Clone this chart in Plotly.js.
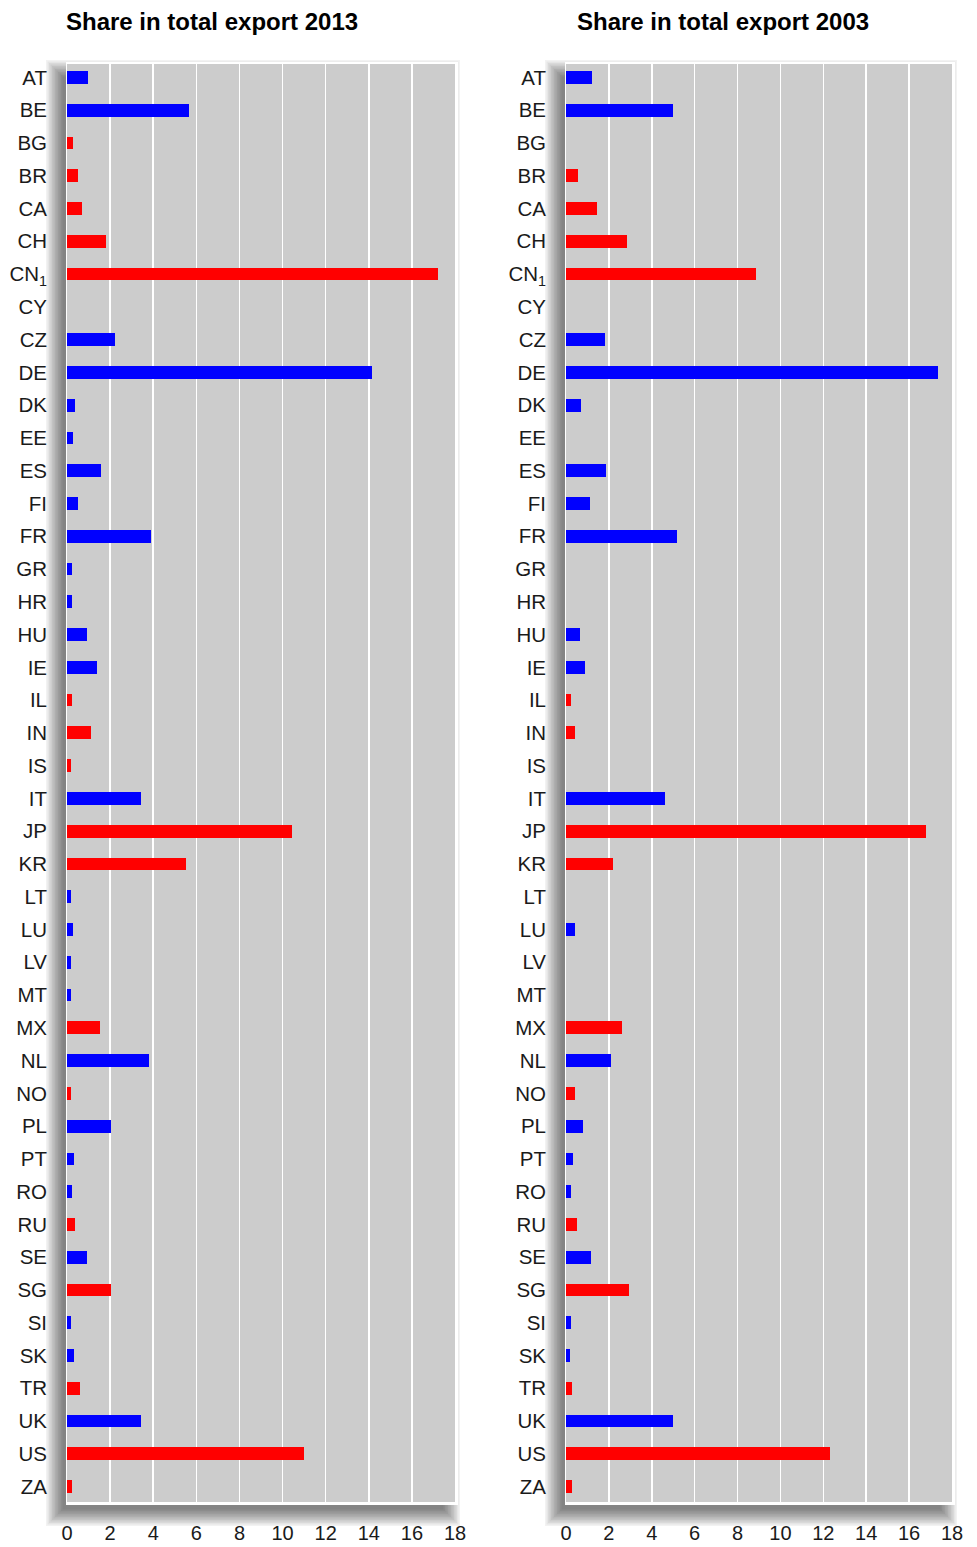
<!DOCTYPE html>
<html>
<head>
<meta charset="utf-8">
<script src="https://cdn.plot.ly/plotly-3.0.1.min.js"></script>
<style>
html,body{margin:0;padding:0;background:#fff;}
#chart{width:977px;height:1547px;}
</style>
</head>
<body>
<div id="chart"></div>
<script>
// ---- data ----
const countries = ["AT","BE","BG","BR","CA","CH","CN<sub>1</sub>","CY","CZ","DE","DK","EE","ES","FI","FR","GR","HR","HU","IE","IL","IN","IS","IT","JP","KR","LT","LU","LV","MT","MX","NL","NO","PL","PT","RO","RU","SE","SG","SI","SK","TR","UK","US","ZA"];

const share2013 = [0.98,5.67,0.28,0.51,0.70,1.81,17.23,null,2.23,14.16,0.37,0.28,1.58,0.51,3.90,0.23,0.23,0.93,1.39,0.23,1.11,0.19,3.44,10.45,5.53,0.19,0.28,0.19,0.19,1.53,3.81,0.19,2.04,0.33,0.23,0.37,0.93,2.04,0.19,0.33,0.60,3.44,11.00,0.23];

const share2003 = [1.20,4.97,null,0.54,1.43,2.83,8.88,null,1.80,17.36,0.68,null,1.85,1.10,5.16,null,null,0.64,0.87,0.22,0.40,null,4.60,16.80,2.17,null,0.40,null,null,2.59,2.08,0.40,0.78,0.31,0.22,0.50,1.15,2.92,0.22,0.17,0.26,4.97,12.33,0.26];

// countries drawn in red (others blue)
const redGroup = ["BG","BR","CA","CH","CN<sub>1</sub>","IL","IN","IS","JP","KR","MX","NO","RU","SG","TR","US","ZA"];

const xTicks = [0,2,4,6,8,10,12,14,16,18];
const titles = ["Share in total export 2013","Share in total export 2003"];

// ---- styling ----
const W = 977, H = 1547;
const BLUE = "#0000ff", RED = "#ff0000";
const colors = countries.map(c => redGroup.includes(c) ? RED : BLUE);

const px = v => v / W;
const py = v => 1 - v / H;

const panels = [
  {x0: 67, x1: 455},
  {x0: 566, x1: 952}
];
const Y0 = 64, Y1 = 1502;

const shapes = [];
panels.forEach(p => {
  // blurred drop shadow built from stacked translucent rectangles
  for (let k = 0; k < 12; k++) {
    const e = 14 - k * 1.5;
    shapes.push({
      type: "rect", xref: "paper", yref: "paper", layer: "below",
      x0: px(p.x0 - 7 - e), x1: px(p.x1 - 9 + e),
      y0: py(Y1 + 10 + e), y1: py(Y0 + 10 - e),
      line: {width: 0}, fillcolor: "rgba(0,0,0,0.052)"
    });
  }
  // white frame
  shapes.push({
    type: "rect", xref: "paper", yref: "paper", layer: "below",
    x0: px(p.x0 - 1), x1: px(p.x1 + 3), y0: py(Y1 + 3), y1: py(Y0 - 2),
    line: {width: 0}, fillcolor: "#ffffff"
  });
  // gray plotting area
  shapes.push({
    type: "rect", xref: "paper", yref: "paper", layer: "below",
    x0: px(p.x0), x1: px(p.x1), y0: py(Y1), y1: py(Y0),
    line: {width: 0}, fillcolor: "#cccccc"
  });
});

const FONT = "Liberation Sans, Arial, Helvetica, sans-serif";

const traces = [
  {type: "bar", orientation: "h", x: share2013, y: countries,
   marker: {color: colors, line: {width: 0}}, width: 0.39,
   xaxis: "x", yaxis: "y", hoverinfo: "skip"},
  {type: "bar", orientation: "h", x: share2003, y: countries,
   marker: {color: colors, line: {width: 0}}, width: 0.39,
   xaxis: "x2", yaxis: "y2", hoverinfo: "skip"}
];

function xAxis(p, anchor) {
  return {
    domain: [px(p.x0), px(p.x1)], anchor: anchor,
    range: [0, 18], tickvals: xTicks, ticktext: xTicks.map(String),
    showgrid: true, gridcolor: "#ffffff", gridwidth: 1.5,
    zeroline: false, showline: false, ticks: "",
    ticklabelstandoff: 17,
    tickfont: {family: FONT, size: 20, color: "#1a1a1a"},
    fixedrange: true
  };
}
function yAxis(anchor) {
  return {
    domain: [py(Y1), py(Y0)], anchor: anchor,
    type: "category", categoryorder: "array", categoryarray: countries,
    range: [countries.length - 1 + 0.47, -0.41],
    showgrid: false, zeroline: false, showline: false, ticks: "",
    ticklabelstandoff: 19,
    tickfont: {family: FONT, size: 20.5, color: "#1a1a1a"},
    fixedrange: true
  };
}

const layout = {
  width: W, height: H,
  margin: {l: 0, r: 0, t: 0, b: 0, pad: 0},
  paper_bgcolor: "#ffffff", plot_bgcolor: "rgba(0,0,0,0)",
  showlegend: false, bargap: 0,
  xaxis: xAxis(panels[0], "y"),
  yaxis: yAxis("x"),
  xaxis2: xAxis(panels[1], "y2"),
  yaxis2: yAxis("x2"),
  shapes: shapes,
  annotations: [
    {text: "<b>" + titles[0] + "</b>", xref: "paper", yref: "paper",
     x: px(211.5), y: py(22), xanchor: "center", yanchor: "middle", showarrow: false,
     font: {family: FONT, size: 24, color: "#000000"}},
    {text: "<b>" + titles[1] + "</b>", xref: "paper", yref: "paper",
     x: px(723), y: py(22), xanchor: "center", yanchor: "middle", showarrow: false,
     font: {family: FONT, size: 24, color: "#000000"}}
  ]
};

Plotly.newPlot("chart", traces, layout, {displayModeBar: false, staticPlot: true});
</script>
</body>
</html>
